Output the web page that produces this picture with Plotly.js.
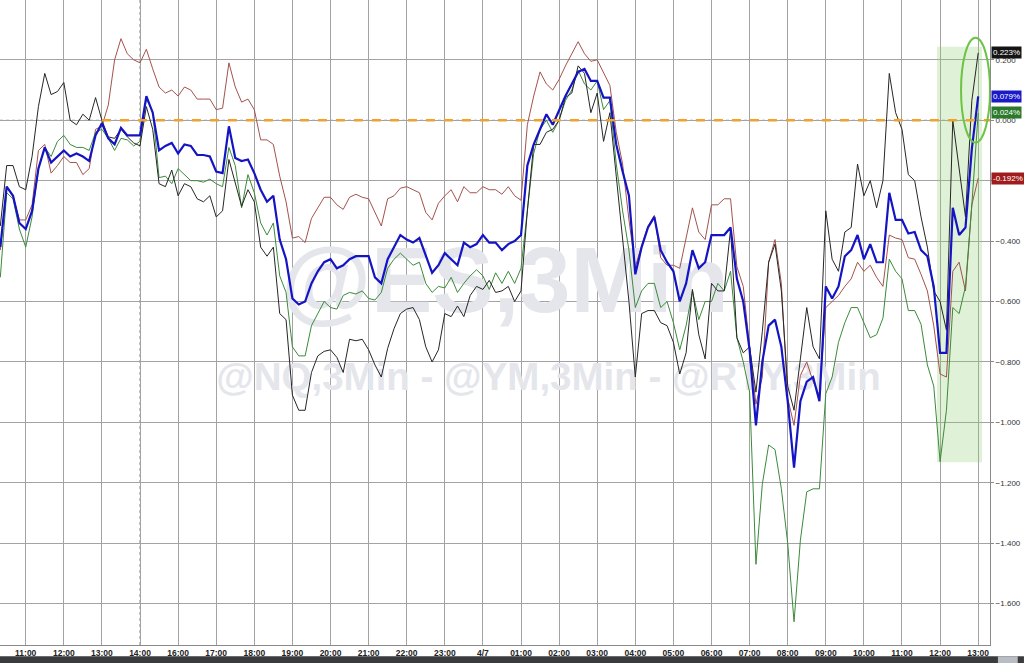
<!DOCTYPE html>
<html>
<head>
<meta charset="utf-8">
<script src="https://cdn.plot.ly/plotly-3.0.1.min.js"></script>
<style>
html,body{margin:0;padding:0;background:#fff;}
#chart{width:1024px;height:663px;}
</style>
</head>
<body>
<div id="chart"></div>
<script>
// Hour slots on the x axis (14:00 -> 16:00 are adjacent slots)
const tickLabels = ["11:00","12:00","13:00","14:00","16:00","17:00","18:00","19:00","20:00","21:00","22:00","23:00","4/7","01:00","02:00","03:00","04:00","05:00","06:00","07:00","08:00","09:00","10:00","11:00","12:00","13:00"];
const tickPos = [0,1,2,3,4,5,6,7,8,9,10,11,12,13,14,15,16,17,18,19,20,21,22,23,24,25];

// samples every 10 minutes (1/6 of an hour slot), first sample 40 min before 11:00
const X_START = -4/6;
const X_STEP = 1/6;

// % change series
const esBlue = [-0.42,-0.22,-0.25,-0.34,-0.36,-0.30,-0.16,-0.09,-0.14,-0.12,-0.10,-0.12,-0.11,-0.12,-0.135,-0.05,-0.01,-0.06,-0.08,-0.025,-0.05,-0.05,-0.05,0.08,0.025,-0.10,-0.085,-0.075,-0.11,-0.08,-0.085,-0.115,-0.115,-0.12,-0.17,-0.175,-0.02,-0.125,-0.135,-0.13,
-0.175,-0.23,-0.27,-0.25,-0.395,-0.46,-0.59,-0.61,-0.60,-0.54,-0.50,-0.47,-0.46,-0.49,-0.48,-0.46,-0.45,-0.45,-0.45,-0.52,-0.54,-0.46,-0.42,-0.38,-0.395,-0.405,-0.39,-0.45,-0.505,-0.48,-0.44,-0.46,-0.48,-0.405,-0.42,-0.41,-0.38,-0.405,-0.405,
-0.43,-0.41,-0.40,-0.38,-0.15,-0.08,-0.03,0.02,-0.015,0.035,0.08,0.12,0.16,0.17,0.13,0.13,0.075,0.075,-0.08,-0.17,-0.25,-0.51,-0.42,-0.355,-0.32,-0.43,-0.47,-0.50,-0.60,-0.54,-0.43,-0.49,-0.47,-0.38,-0.38,-0.38,-0.355,-0.525,-0.60,
-0.76,-1.01,-0.80,-0.68,-0.66,-0.75,-0.93,-1.15,-0.93,-0.865,-0.85,-0.93,-0.55,-0.59,-0.55,-0.45,-0.43,-0.38,-0.46,-0.41,-0.47,-0.47,-0.24,-0.33,-0.33,-0.375,-0.37,-0.43,-0.45,-0.55,-0.77,-0.77,-0.29,-0.38,-0.355,-0.095,0.079];

const nqBlack = [-0.35,-0.15,-0.15,-0.22,-0.23,-0.12,0.045,0.155,0.085,0.095,0.125,0.00,-0.015,0.02,0.00,0.075,0.00,-0.055,-0.06,-0.03,-0.055,-0.075,-0.085,0.045,-0.03,-0.21,-0.22,-0.165,-0.25,-0.21,-0.22,-0.26,-0.27,-0.25,-0.32,-0.30,-0.13,-0.21,-0.285,-0.23,
-0.27,-0.42,-0.45,-0.42,-0.64,-0.66,-0.91,-0.96,-0.96,-0.835,-0.78,-0.765,-0.76,-0.785,-0.835,-0.725,-0.73,-0.725,-0.76,-0.81,-0.85,-0.755,-0.69,-0.64,-0.625,-0.62,-0.66,-0.75,-0.80,-0.76,-0.64,-0.65,-0.615,-0.65,-0.58,-0.55,-0.56,-0.53,-0.57,
-0.565,-0.55,-0.60,-0.565,-0.30,-0.08,-0.08,-0.04,-0.03,0.00,0.075,0.09,0.18,0.155,0.025,0.09,-0.07,0.025,-0.185,-0.395,-0.60,-0.85,-0.64,-0.63,-0.63,-0.67,-0.68,-0.735,-0.84,-0.77,-0.56,-0.71,-0.79,-0.54,-0.565,-0.565,-0.36,-0.72,-0.77,
-0.75,-0.90,-0.70,-0.47,-0.41,-0.565,-0.88,-0.96,-0.79,-0.62,-0.75,-0.79,-0.30,-0.46,-0.50,-0.37,-0.355,-0.145,-0.25,-0.20,-0.29,-0.20,0.155,0.025,-0.03,-0.18,-0.20,-0.32,-0.42,-0.565,-0.60,-0.695,0.00,-0.17,-0.32,0.065,0.223];

const rtyGreen = [-0.52,-0.24,-0.26,-0.36,-0.42,-0.32,-0.16,-0.09,-0.12,-0.07,-0.05,-0.08,-0.09,-0.09,-0.10,-0.04,-0.03,-0.06,-0.10,-0.06,-0.065,-0.085,-0.07,0.07,0.03,-0.19,-0.185,-0.21,-0.16,-0.18,-0.20,-0.20,-0.205,-0.195,-0.21,-0.22,-0.09,-0.15,-0.29,-0.18,
-0.24,-0.34,-0.38,-0.34,-0.515,-0.57,-0.75,-0.78,-0.78,-0.68,-0.64,-0.60,-0.62,-0.625,-0.58,-0.57,-0.575,-0.565,-0.59,-0.595,-0.57,-0.49,-0.46,-0.44,-0.46,-0.48,-0.47,-0.54,-0.57,-0.55,-0.555,-0.52,-0.57,-0.54,-0.515,-0.495,-0.515,-0.56,-0.505,
-0.54,-0.50,-0.54,-0.49,-0.29,-0.11,-0.03,0.00,-0.04,0.00,0.065,0.10,0.165,0.12,0.10,0.13,0.035,0.065,-0.145,-0.30,-0.43,-0.62,-0.565,-0.54,-0.54,-0.62,-0.60,-0.67,-0.76,-0.68,-0.565,-0.66,-0.60,-0.60,-0.54,-0.565,-0.50,-0.72,-0.80,
-0.90,-1.47,-1.205,-1.075,-1.09,-1.22,-1.40,-1.66,-1.39,-1.23,-1.22,-1.22,-0.905,-0.85,-0.735,-0.67,-0.62,-0.62,-0.67,-0.72,-0.71,-0.655,-0.46,-0.50,-0.525,-0.63,-0.63,-0.675,-0.81,-0.88,-1.13,-0.96,-0.62,-0.64,-0.55,-0.28,0.024];

const ymBrown = [-0.43,-0.22,-0.25,-0.33,-0.33,-0.28,-0.10,-0.08,-0.175,-0.15,-0.12,-0.14,-0.14,-0.18,-0.16,-0.03,-0.02,0.05,0.20,0.27,0.22,0.20,0.19,0.235,0.17,0.11,0.09,0.10,0.08,0.11,0.10,0.07,0.07,0.07,0.035,0.04,0.19,0.11,0.06,0.07,
0.035,-0.065,-0.065,-0.08,-0.185,-0.27,-0.39,-0.385,-0.405,-0.325,-0.29,-0.255,-0.255,-0.28,-0.295,-0.255,-0.245,-0.255,-0.26,-0.305,-0.35,-0.26,-0.25,-0.225,-0.22,-0.23,-0.24,-0.305,-0.33,-0.275,-0.25,-0.23,-0.27,-0.22,-0.24,-0.24,-0.22,-0.23,-0.23,
-0.245,-0.22,-0.25,-0.265,-0.015,0.08,0.16,0.12,0.10,0.135,0.18,0.22,0.26,0.22,0.195,0.20,0.16,0.115,-0.04,-0.145,-0.33,-0.485,-0.415,-0.35,-0.315,-0.455,-0.48,-0.48,-0.49,-0.395,-0.29,-0.37,-0.395,-0.28,-0.28,-0.26,-0.26,-0.485,-0.55,
-0.75,-0.94,-0.85,-0.47,-0.395,-0.54,-0.92,-1.01,-0.845,-0.80,-0.865,-0.91,-0.62,-0.60,-0.58,-0.55,-0.525,-0.47,-0.50,-0.48,-0.52,-0.55,-0.38,-0.39,-0.395,-0.455,-0.46,-0.51,-0.565,-0.68,-0.84,-0.85,-0.50,-0.47,-0.565,-0.28,-0.192];

const yTicks = [-1.6,-1.4,-1.2,-1.0,-0.8,-0.6,-0.4,-0.2,0,0.2];
const topTickLabel = {value: 0.4, text: "0.400%"};
const lastLabels = [
  {value: 0.223, text: "0.223%", color: "#141414"},
  {value: 0.079, text: "0.079%", color: "#1a1ac8"},
  {value: 0.024, text: "0.024%", color: "#2b7a2b"},
  {value: -0.192, text: "-0.192%", color: "#a01c1c"}
];
const watermark1 = "@ES,3Min";
const watermark2 = "@NQ,3Min - @YM,3Min - @RTY,3Min";

function xs(n){ const a=[]; for(let k=0;k<n;k++) a.push(X_START + k*X_STEP); return a; }

const XR = [-0.675, 25.31];
const YR = [-1.737, 0.398];

const traces = [
  {x:[12.58], y:[-0.56], mode:'text', text:[watermark1], textfont:{family:'Liberation Sans, Arial', size:92, color:'#e4e6eb', weight:700}, hoverinfo:'skip', showlegend:false, cliponaxis:false},
  {x:[13.72], y:[-0.86], mode:'text', text:[watermark2], textfont:{family:'Liberation Sans, Arial', size:38.5, color:'#e4e6eb', weight:700}, hoverinfo:'skip', showlegend:false, cliponaxis:false},
  {x:xs(ymBrown.length), y:ymBrown, mode:'lines', line:{color:'#a4524c', width:1}, name:'YM'},
  {x:xs(rtyGreen.length), y:rtyGreen, mode:'lines', line:{color:'#3b8a3b', width:1}, name:'RTY'},
  {x:xs(nqBlack.length), y:nqBlack, mode:'lines', line:{color:'#262626', width:1}, name:'NQ'},
  {x:xs(esBlue.length), y:esBlue, mode:'lines', line:{color:'#1414c4', width:2.2}, name:'ES'}
];

const annotations = lastLabels.map(l => ({
  x:1, xref:'paper', xanchor:'left', xshift:1,
  y:l.value, yref:'y', yanchor:'middle',
  text:l.text, showarrow:false,
  bgcolor:l.color, font:{family:'Liberation Sans, Arial', size:8, color:'#ffffff'},
  borderpad:1
}));
annotations.push({
  x:1, xref:'paper', xanchor:'left', xshift:4,
  y:topTickLabel.value, yref:'y', yanchor:'middle',
  text:topTickLabel.text, showarrow:false,
  font:{family:'Liberation Sans, Arial', size:8, color:'#333'}
});

const shapes = [
  // light green highlight box
  {type:'rect', xref:'x', yref:'y', x0:23.92, x1:25.10, y0:-1.132, y1:0.243, fillcolor:'rgba(140,205,110,0.28)', line:{width:0}, layer:'between'},
  // dotted zero line
  {type:'line', xref:'paper', yref:'y', x0:0, x1:1, y0:0, y1:0, line:{color:'#9a9a9a', width:1, dash:'dot'}, layer:'between'},
  // session break at 14:00: dotted
  {type:'line', xref:'x', yref:'paper', x0:3, x1:3, y0:0, y1:1, line:{color:'#ffffff', width:2}, layer:'between'},
  {type:'line', xref:'x', yref:'paper', x0:3, x1:3, y0:0, y1:1, line:{color:'#9a9a9a', width:1.2, dash:'dot'}, layer:'between'},
  // orange dashed reference line
  {type:'line', xref:'x', yref:'y', x0:2, x1:XR[1], y0:0, y1:0, line:{color:'#f2a12e', width:2.6, dash:'dash'}, layer:'above'},
  // green ellipse
  {type:'circle', xref:'x', yref:'y', x0:24.55, x1:25.31, y0:-0.074, y1:0.273, line:{color:'#6cc444', width:2}, layer:'above'},
  // bottom scroll bar
  {type:'rect', xref:'paper', yref:'paper', x0:0, x1:1.0343, y0:-0.0279, y1:-0.0175, fillcolor:'#3a3b3d', line:{width:0}, layer:'below'},
  {type:'rect', xref:'paper', yref:'paper', x0:1.008, x1:1.028, y0:-0.0279, y1:-0.0175, fillcolor:'#b8bcc4', line:{width:0}, layer:'below'}
];

const layout = {
  width:1024, height:663,
  margin:{l:0, r:34, t:0, b:18, pad:0},
  paper_bgcolor:'#ffffff', plot_bgcolor:'#ffffff',
  showlegend:false,
  font:{family:'Liberation Sans, Arial', size:9, color:'#222'},
  xaxis:{
    range:XR, tickmode:'array', tickvals:tickPos, ticktext:tickLabels,
    showgrid:true, gridcolor:'#a3a3a3', gridwidth:1, zeroline:false,
    showline:true, linecolor:'#8a8a8a', linewidth:1,
    ticks:'', ticklen:0,
    tickfont:{family:'Liberation Sans, Arial', size:8.5, color:'#222', weight:700}
  },
  yaxis:{
    range:YR, side:'right', tickmode:'array', tickvals:yTicks,
    tickformat:'.3f', ticksuffix:'%',
    showgrid:true, gridcolor:'#a3a3a3', gridwidth:1, zeroline:false,
    showline:true, linecolor:'#8a8a8a', linewidth:1,
    ticks:'outside', ticklen:3, tickcolor:'#8a8a8a',
    tickfont:{family:'Liberation Sans, Arial', size:8, color:'#333'}
  },
  shapes:shapes,
  annotations:annotations
};

Plotly.newPlot('chart', traces, layout, {displayModeBar:false, staticPlot:true});
</script>
</body>
</html>
